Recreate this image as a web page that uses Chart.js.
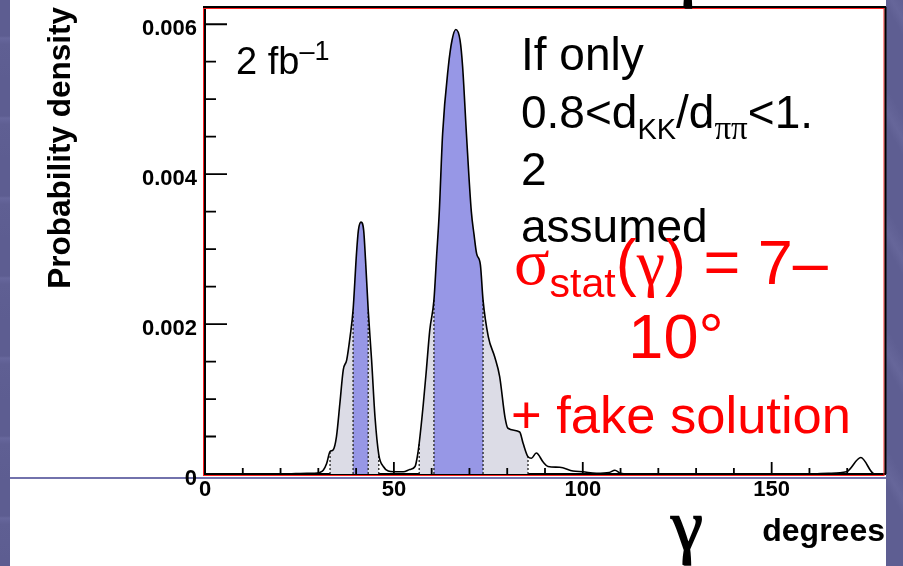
<!DOCTYPE html>
<html>
<head>
<meta charset="utf-8">
<script src="https://cdn.jsdelivr.net/npm/chart.js@4.4.1/dist/chart.umd.min.js"></script>
<style>
  html, body { margin: 0; padding: 0; background: #fff; }
  #slide { position: relative; width: 903px; height: 566px; overflow: hidden; background: #fff; }
  .strip { position: absolute; top: 0; height: 566px; }
  #stripL {
    left: 0; width: 10px;
    background: repeating-linear-gradient(180deg, #5d5d91 0px, #5d5d91 36px, #67679c 38px, #5f5f93 44px, #5d5d91 80px);
  }
  #stripR {
    left: 886px; width: 17px;
    background: repeating-linear-gradient(60deg, #5e5e92 0px, #5e5e92 40px, #66669a 48px, #5e5e92 60px);
  }
  #rule { position: absolute; left: 10px; top: 477px; width: 876px; height: 2px; background: #7272ac; }
  #chart { position: absolute; left: 0; top: 0; }
</style>
</head>
<body>
<div id="slide">
  <div class="strip" id="stripL"></div>
  <div class="strip" id="stripR"></div>
  <div id="rule"></div>
  <canvas id="chart" width="903" height="566"></canvas>
</div>
<script>
// gamma scan (degrees) and probability density
const gammaDeg = [0, 20, 24, 27, 29, 30.4, 31.3, 32.2, 33.1, 33.9,
  34.8, 35.7, 36.6, 37.5, 38.4, 39.2, 40.1, 40.6, 41.3, 42.0,
  42.5, 43.2, 44.1, 45.0, 46.0, 47.2, 48.5, 50, 52.5, 54.2,
  55.6, 56.2, 56.7, 57.8, 58.6, 59.5, 60.6, 61.3, 62.0, 62.9,
  64.4, 65.4, 66.4, 67.5, 68.2, 69.2, 70.5, 71.2, 71.9, 72.9,
  73.6, 75.0, 76.7, 78.0, 79.4, 80.2, 83.3, 84.2, 85.5, 86.4,
  87.7, 89.5, 90.8, 93.9, 97.4, 100, 103.6, 107, 108.5, 110,
  112, 160, 165, 169.8, 173.6, 177.2, 180];
const density = [0, 0, 0.000005, 0.00001, 0.00001, 0.00002, 0.00005, 0.00014, 0.0003, 0.00032,
  0.0005, 0.00094, 0.00139, 0.00152, 0.00183, 0.00219, 0.00294, 0.00325, 0.00336, 0.00325,
  0.00285, 0.00219, 0.00152, 0.00076, 0.00026, 0.0001, 0.00004, 0.00003, 0.00003, 0.00006,
  0.0001, 0.00023, 0.00041, 0.00094, 0.00139, 0.00192, 0.00232, 0.0029, 0.00348, 0.00454,
  0.00543, 0.00579, 0.00593, 0.00579, 0.00543, 0.00454, 0.0035, 0.0032, 0.00294, 0.00279,
  0.00232, 0.00183, 0.00156, 0.0013, 0.00076, 0.00061, 0.00056, 0.00041, 0.00023, 0.00021,
  0.00028, 0.00016, 0.0001, 0.00009, 0.00004, 0.00003, 0.00001, 0.00002, 0.00005, 0.00001,
  0, 0, 0.00001, 0.00003, 0.00022, 0, 0];

// confidence intervals: wide (grey) and core (blue)
const wideBands = [[33.1, 46.0], [56.7, 85.5]];
const coreBands = [[39.2, 43.2], [60.6, 73.6]];

const yMajor = [0, 0.002, 0.004, 0.006];
const yTickLabels = ['0', '0.002', '0.004', '0.006'];
const xMajor = [0, 50, 100, 150];
const xTickLabels = ['0', '50', '100', '150'];

const SANS = "'Liberation Sans', Arial, sans-serif";
const SERIF = "'Liberation Serif', 'Times New Roman', serif";

const points = gammaDeg.map((g, i) => ({x: g, y: density[i]}));
const majorIndex = (list, v) => list.findIndex(m => Math.abs(m - v) < 1e-9);

function bandData(lo, hi) {
  return points.filter(p => p.x >= lo && p.x <= hi);
}
function edgeData(g) {
  const i = gammaDeg.indexOf(g);
  return [{x: g, y: 0}, {x: g, y: density[i]}];
}

const datasets = [];
// curve on top
datasets.push({
  data: points, borderColor: '#000', borderWidth: 1.6, pointRadius: 0,
  cubicInterpolationMode: 'monotone', fill: false
});
// dotted interval edges
wideBands.concat(coreBands).forEach(b => {
  b.forEach(g => datasets.push({
    data: edgeData(g), borderColor: '#222', borderWidth: 1.3, borderDash: [2, 2],
    pointRadius: 0, fill: false
  }));
});
coreBands.forEach(b => datasets.push({
  data: bandData(b[0], b[1]), borderWidth: 0, pointRadius: 0,
  cubicInterpolationMode: 'monotone', fill: 'origin', backgroundColor: '#9797e6'
}));
wideBands.forEach(b => datasets.push({
  data: bandData(b[0], b[1]), borderWidth: 0, pointRadius: 0,
  cubicInterpolationMode: 'monotone', fill: 'origin', backgroundColor: '#dcdce6'
}));

// short tick marks pointing into the frame, plus the frame itself
const innerTicks = {
  id: 'innerTicks',
  afterDatasetsDraw(chart) {
    const {ctx, chartArea: a, scales: {x, y}} = chart;
    ctx.save();
    ctx.strokeStyle = '#000';
    ctx.lineWidth = 1.8;
    ctx.beginPath();
    y.ticks.forEach(t => {
      if (t.value <= y.min || t.value >= y.max) return;
      const py = y.getPixelForValue(t.value);
      const len = majorIndex(yMajor, t.value) >= 0 ? 22 : 11;
      ctx.moveTo(a.left, py);
      ctx.lineTo(a.left + len, py);
    });
    x.ticks.forEach(t => {
      if (t.value <= x.min || t.value >= x.max) return;
      const px = x.getPixelForValue(t.value);
      const len = majorIndex(xMajor, t.value) >= 0 ? 12 : 6;
      ctx.moveTo(px, a.bottom);
      ctx.lineTo(px, a.bottom - len);
    });
    ctx.stroke();

    ctx.lineWidth = 1;
    ctx.strokeStyle = '#ff2020';
    ctx.strokeRect(a.left - 1.5, a.top + 1.5, a.right - a.left + 0.5, a.bottom - a.top);
    ctx.strokeStyle = '#000';
    ctx.lineWidth = 2;
    ctx.beginPath();
    ctx.moveTo(a.left - 2, a.top);
    ctx.lineTo(a.right + 1, a.top);
    ctx.moveTo(a.right + 0.5, a.top);
    ctx.lineTo(a.right + 0.5, a.bottom);
    ctx.stroke();
    ctx.restore();
  }
};

function drawRuns(ctx, x, y, runs, color, outline) {
  ctx.fillStyle = color;
  ctx.strokeStyle = color;
  ctx.lineWidth = outline || 0;
  ctx.textAlign = 'left';
  ctx.textBaseline = 'alphabetic';
  for (const r of runs) {
    ctx.font = r.font;
    ctx.fillText(r.text, x, y + (r.dy || 0));
    if (outline) ctx.strokeText(r.text, x, y + (r.dy || 0));
    x += ctx.measureText(r.text).width;
  }
  return x;
}

const notes = {
  id: 'notes',
  afterDraw(chart) {
    const ctx = chart.ctx;
    ctx.save();
    // luminosity
    drawRuns(ctx, 236, 74, [
      {text: '2 fb', font: `38px ${SANS}`},
      {text: '\u20131', font: `27px ${SANS}`, dy: -14}
    ], '#000');

    // assumption text
    const big = `46px ${SANS}`;
    drawRuns(ctx, 521, 70, [{text: 'If only', font: big}], '#000');
    drawRuns(ctx, 521, 128, [
      {text: '0.8<d', font: big},
      {text: 'KK', font: `29px ${SANS}`, dy: 11},
      {text: '/d', font: big},
      {text: '\u03c0\u03c0', font: `33px ${SERIF}`, dy: 11},
      {text: '<1.', font: big}
    ], '#000');
    drawRuns(ctx, 521, 185, [{text: '2', font: big}], '#000');
    drawRuns(ctx, 521, 242, [{text: 'assumed', font: big}], '#000');

    // resolution
    const red = '#ff0000';
    const rbig = `63px ${SANS}`;
    drawRuns(ctx, 514, 284, [
      {text: '\u03c3', font: `66px ${SERIF}`},
      {text: 'stat', font: `41px ${SANS}`, dy: 13},
      {text: '(', font: rbig},
      {text: '\u03b3', font: `64px ${SERIF}`},
      {text: ')', font: rbig},
      {text: ' = 7\u2013', font: rbig}
    ], red);
    ctx.font = rbig;
    ctx.fillStyle = red;
    ctx.textAlign = 'center';
    ctx.fillText('10\u00b0', 676, 358);
    drawRuns(ctx, 511, 433, [{text: '+ fake solution', font: `52.5px ${SANS}`}], red);

    // gamma symbol of the x axis title, and the slide heading above the frame
    drawRuns(ctx, 671, 550, [{text: '\u03b3', font: `72px ${SERIF}`}], '#000', 1.6);
    drawRuns(ctx, 672, -7, [{text: '\u03b3', font: `72px ${SERIF}`}], '#000', 1.6);
    ctx.restore();
  }
};

const ctx = document.getElementById('chart').getContext('2d');
const chart = new Chart(ctx, {
  type: 'line',
  data: {datasets: datasets},
  options: {
    responsive: false,
    animation: false,
    devicePixelRatio: 1,
    layout: {padding: {top: 7, right: 18, left: 0, bottom: 0}},
    plugins: {legend: {display: false}, tooltip: {enabled: false}},
    scales: {
      x: {
        type: 'linear', min: 0, max: 180, z: 1,
        grid: {display: false, drawTicks: false},
        border: {display: true, color: '#000', width: 2},
        ticks: {
          stepSize: 10, autoSkip: false, maxRotation: 0, padding: 3, color: '#000',
          font: {family: SANS, size: 22, weight: 'bold'},
          callback: v => { const i = majorIndex(xMajor, v); return i >= 0 ? xTickLabels[i] : ''; }
        },
        title: {
          display: true, text: 'degrees', align: 'end', color: '#000',
          font: {family: SANS, size: 32, weight: 'bold'},
          padding: {top: 0, bottom: 15}
        },
        afterFit: s => { s.height = 92; s.paddingLeft = 0; s.paddingRight = 0; }
      },
      y: {
        min: 0, max: 0.00623, z: 1,
        grid: {display: false, drawTicks: false},
        border: {display: true, color: '#000', width: 2},
        ticks: {
          stepSize: 0.0005, includeBounds: false, autoSkip: false,
          padding: 8, labelOffset: 5, color: '#000',
          font: {family: SANS, size: 22, weight: 'bold'},
          callback: v => { const i = majorIndex(yMajor, v); return i >= 0 ? yTickLabels[i] : ''; }
        },
        title: {
          display: true, text: 'Probability density', align: 'end', color: '#000',
          font: {family: SANS, size: 31.5, weight: 'bold'},
          padding: {top: 42, bottom: 0}
        },
        afterFit: s => { s.width = 205; s.paddingTop = 0; s.paddingBottom = 0; }
      }
    }
  },
  plugins: [innerTicks, notes]
});
</script>
</body>
</html>
